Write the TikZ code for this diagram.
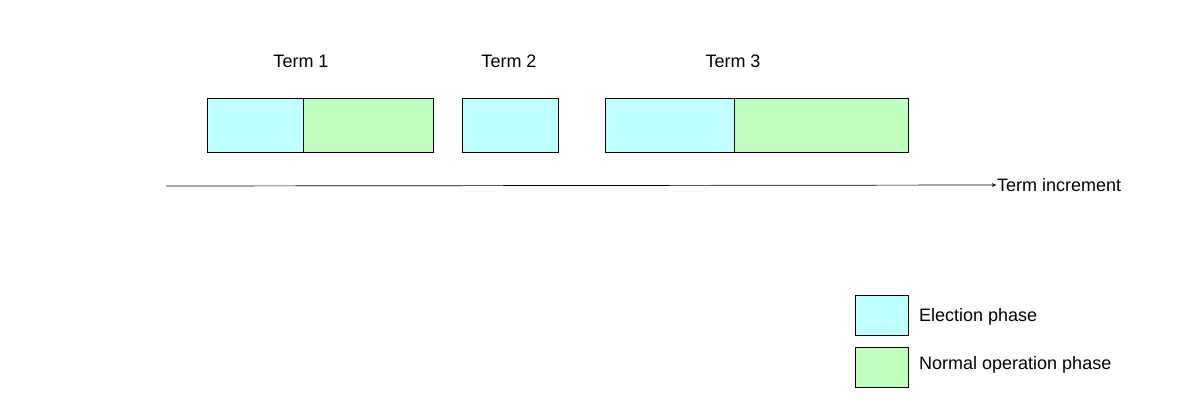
\documentclass[tikz,border=0pt]{standalone}
\usepackage{fontspec}
\setmainfont{Liberation Sans}
\usetikzlibrary{arrows,positioning}
\definecolor{electcyan}{HTML}{C0FFFF}
\definecolor{normalgreen}{HTML}{C0FFC0}
\tikzset{
  basenode/.style = {rectangle, draw=black, line width=0.8pt, inner sep=0pt, outer sep=0pt},
  elect_node/.style = {basenode, fill=electcyan, minimum height=54pt},
  normal_node/.style = {basenode, fill=normalgreen, minimum height=54pt},
  key_node/.style = {basenode, minimum width=53pt, minimum height=40pt},
  text_node/.style = {inner sep=0pt, font=\fontsize{18}{21}\selectfont},
}
\begin{document}
\begin{tikzpicture}[x=1pt,y=-1pt,>=latex']
    \useasboundingbox (0,0) rectangle (1200,400);
    % term boxes
    \node [elect_node, minimum width=96pt, anchor=north west] (e1) at (207,98) {};
    \node [normal_node, minimum width=130pt, anchor=west] (n1) at (e1.east) {};
    \node [elect_node, minimum width=96pt, anchor=north west] (e2) at (462,98) {};
    \node [elect_node, minimum width=129pt, anchor=north west] (e3) at (605,98) {};
    \node [normal_node, minimum width=174pt, anchor=west] (n3) at (e3.east) {};
    % term labels
    \node [text_node] (t1) at (301,61) {Term 1};
    \node [text_node] (t2) at (509,61) {Term 2};
    \node [text_node] (t3) at (733,61) {Term 3};
    % time axis
    \coordinate (start) at (166,186);
    \node [text_node, anchor=west] (inc) at (997,185) {Term increment};
    \draw [->, line width=0.7pt] (start) -- (inc.west);
    % legend
    \node [key_node, fill=electcyan, anchor=north west] (k1) at (855,295) {};
    \node [key_node, fill=normalgreen, below=12pt of k1] (k2) {};
    \node [text_node, anchor=west] (l1) at (919,317) {Election phase};
    \node [text_node, anchor=west] (l2) at (919,365) {Normal operation phase};
\end{tikzpicture}
\end{document}
